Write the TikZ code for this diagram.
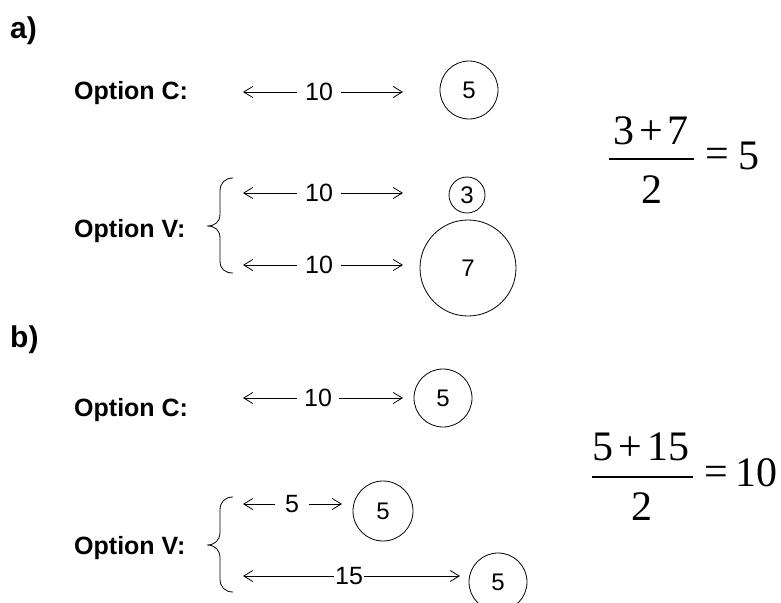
\documentclass[tikz,border=0pt]{standalone}
\usepackage{fontspec}
\setmainfont{Liberation Serif}
\setsansfont{Liberation Sans}
\usetikzlibrary{arrows.meta}
\begin{document}
\begin{tikzpicture}[x=1pt,y=-1pt,
  head/.style={font=\sffamily\bfseries\fontsize{30}{34}\selectfont, anchor=base west, inner sep=0pt},
  opt/.style={font=\sffamily\bfseries\fontsize{25}{29}\selectfont, anchor=base west, inner sep=0pt},
  dimlabel/.style={font=\sffamily\fontsize{25}{29}\selectfont, inner ysep=0pt},
  ball/.style={draw, circle, line width=0.8pt, inner sep=0pt, font=\sffamily\fontsize{24}{28}\selectfont},
  dim/.style={line width=0.8pt, -{Straight Barb[length=9pt,width=11pt]}},
  eq/.style={font=\fontsize{42}{46}\selectfont, inner sep=0pt},
  bar/.style={line width=1.6pt},
  bracket/.style={line width=0.8pt}
]
\useasboundingbox (0,0) rectangle (781,602);

% ---------------- part a ----------------
\node[head] (la) at (10,38) {a)};
\node[opt] (aCt) at (74,99) {Option C:};
\node[opt] (aVt) at (74,237) {Option V:};

% option C, part a
\node[dimlabel, inner xsep=8pt] (aCn) at (319,92) {10};
\coordinate (aCl) at (243,92);
\coordinate (aCr) at (403,92);
\draw[dim] (aCn.west) -- (aCl);
\draw[dim] (aCn.east) -- (aCr);
\node[ball, minimum size=58pt] (aCb) at (469,90) {5};

% option V, part a
\node[dimlabel, inner xsep=8pt] (aV1n) at (319,193) {10};
\coordinate (aV1l) at (243,193);
\coordinate (aV1r) at (403,193);
\draw[dim] (aV1n.west) -- (aV1l);
\draw[dim] (aV1n.east) -- (aV1r);
\node[ball, minimum size=36pt] (aV1b) at (467,195) {3};

\node[dimlabel, inner xsep=8pt] (aV2n) at (319,265) {10};
\coordinate (aV2l) at (243,265);
\coordinate (aV2r) at (403,265);
\draw[dim] (aV2n.west) -- (aV2l);
\draw[dim] (aV2n.east) -- (aV2r);
\node[ball, minimum size=96pt] (aV2b) at (468,268) {7};

% curly bracket, part a
\draw[bracket] (233,178) .. controls (225,178) and (220,183) .. (220,191)
  -- (220,214) .. controls (220,222) and (215,226) .. (207,226)
  .. controls (215,226) and (220,230) .. (220,238)
  -- (220,261) .. controls (220,269) and (225,273) .. (233,273);

% mean, part a
\node[eq] (aNum) at (651,131) {3\hspace{5pt}+\hspace{5pt}7};
\coordinate (aBarL) at (609,159);
\coordinate (aBarR) at (694,159);
\draw[bar] (aBarL) -- (aBarR);
\node[eq] (aDen) at (652,190) {2};
\node[eq] (aEq) at (717,158) {=};
\node[eq] (aRes) at (749,156) {5};

% ---------------- part b ----------------
\node[head] (lb) at (10,347) {b)};
\node[opt] (bCt) at (74,416) {Option C:};
\node[opt] (bVt) at (74,554) {Option V:};

% option C, part b
\node[dimlabel, inner xsep=7pt] (bCn) at (318,398) {10};
\coordinate (bCl) at (243,398);
\coordinate (bCr) at (403,398);
\draw[dim] (bCn.west) -- (bCl);
\draw[dim] (bCn.east) -- (bCr);
\node[ball, minimum size=58pt] (bCb) at (443,398) {5};

% option V, part b
\node[dimlabel, inner xsep=10pt] (bV1n) at (292,504) {5};
\coordinate (bV1l) at (243,504);
\coordinate (bV1r) at (342,504);
\draw[dim] (bV1n.west) -- (bV1l);
\draw[dim] (bV1n.east) -- (bV1r);
\node[ball, minimum size=60pt] (bV1b) at (383,511) {5};

\node[dimlabel, inner xsep=1pt] (bV2n) at (349,576) {15};
\coordinate (bV2l) at (243,576);
\coordinate (bV2r) at (460,576);
\draw[dim] (bV2n.west) -- (bV2l);
\draw[dim] (bV2n.east) -- (bV2r);
\node[ball, minimum size=58pt] (bV2b) at (498,582) {5};

% curly bracket, part b
\draw[bracket] (233,497) .. controls (225,497) and (220,502) .. (220,510)
  -- (220,532) .. controls (220,540) and (215,545) .. (207,545)
  .. controls (215,545) and (220,550) .. (220,558)
  -- (220,579) .. controls (220,587) and (225,592) .. (233,592);

% mean, part b
\node[eq] (bNum) at (641,447) {5\hspace{5pt}+\hspace{5pt}15};
\coordinate (bBarL) at (592,477);
\coordinate (bBarR) at (693,477);
\draw[bar] (bBarL) -- (bBarR);
\node[eq] (bDen) at (642,507) {2};
\node[eq] (bEq) at (716,476) {=};
\node[eq] (bRes) at (756,473) {10};
\end{tikzpicture}
\end{document}
